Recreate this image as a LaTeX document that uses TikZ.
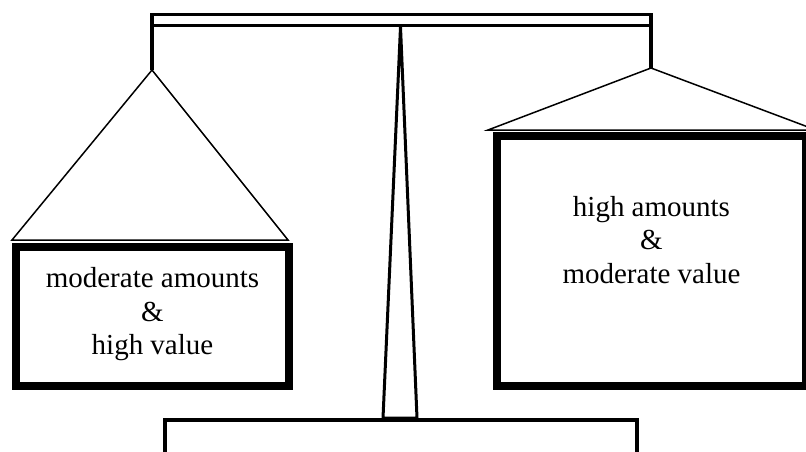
\documentclass[tikz,border=0pt]{standalone}
\usepackage{fontspec}
\setmainfont{Liberation Serif}
\usetikzlibrary{positioning}

\begin{document}
\begin{tikzpicture}[
    x=1pt, y=-1pt,
    beam/.style={line width=3.5pt},
    post/.style={line width=3pt, line join=miter},
    cord/.style={line width=1.5pt},
    pan/.style={draw, line width=8pt, inner sep=0pt},
    pantext/.style={align=center, inner sep=0pt, font=\fontsize{29}{33.5}\selectfont}
]
    \useasboundingbox (0,0) rectangle (806,452);
    \clip (0,0) rectangle (806,452);

    \coordinate (lhook) at (152,70);
    \coordinate (rhook) at (651,68);
    \coordinate (pivot) at (400.5,27);

    \node[pan, minimum width=273pt, minimum height=139pt] (lpan) at (152.5,316.5) {};
    \node[pan, minimum width=309pt, minimum height=250pt] (rpan) at (651.5,261) {};
    \node[pantext] (ltext) at ([yshift=2pt]lpan.center) {moderate amounts\\\&\\high value};
    \node[pantext] (rtext) at ([yshift=21pt]rpan.center) {high amounts\\\&\\moderate value};

    % beam
    \draw[beam] (lhook) -- (152,14.5) -- (651,14.5) -- (rhook);
    \draw[beam] (152,25.5) -- (651,25.5);

    % stand
    \draw[post] (pivot) -- (383,418) -- (417,418) -- cycle;
    \draw[beam, line width=4pt] (165,460) -- (165,420) -- (637,420) -- (637,460);

    % cords
    \draw[cord] ([yshift=3pt]lpan.north west) -- (lhook) -- ([xshift=-5pt,yshift=3pt]lpan.north east) -- cycle;
    \draw[cord] ([xshift=-5pt,yshift=2pt]rpan.north west) -- (rhook) -- ([xshift=6pt,yshift=2pt]rpan.north east) -- cycle;
\end{tikzpicture}
\end{document}
